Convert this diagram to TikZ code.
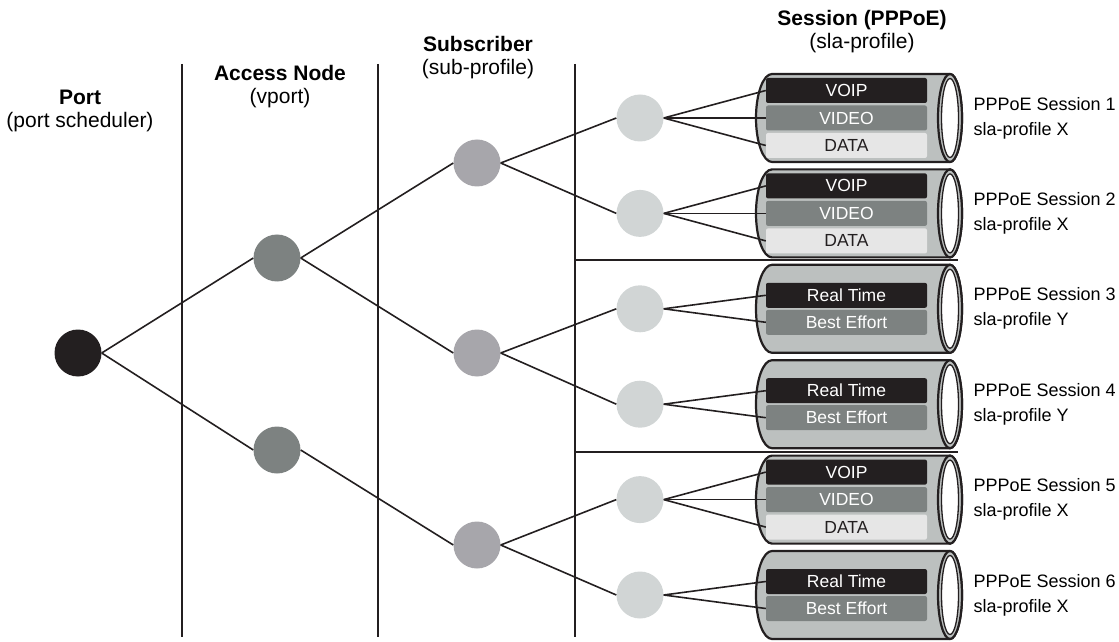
\documentclass[tikz,border=0pt]{standalone}
\usepackage{fontspec}
\setmainfont{Liberation Sans}
\usetikzlibrary{positioning}
\definecolor{nodeblack}{RGB}{35,31,32}
\definecolor{accessgray}{RGB}{125,130,129}
\definecolor{subgray}{RGB}{167,166,171}
\definecolor{sessgray}{RGB}{209,213,213}
\definecolor{tubegray}{RGB}{188,192,191}
\definecolor{datagray}{RGB}{230,230,230}

\begin{document}
\begin{tikzpicture}[
    x=1pt, y=1pt,
    dot/.style={circle, minimum size=47pt, inner sep=0pt},
    link/.style={line width=1.6pt, draw=nodeblack},
    divider/.style={line width=2.6pt, draw=nodeblack},
    head/.style={align=center, font=\fontsize{21}{23}\selectfont},
    band/.style={rounded corners=2pt, minimum width=161pt, minimum height=25pt,
        inner sep=0pt, font=\fontsize{17.5}{20}\selectfont},
    tag/.style={anchor=west, align=left, font=\fontsize{18}{25}\selectfont}
]
\useasboundingbox (0,0) rectangle (1119,641);

% column headings
\node[head] (porthead) at (80,530) {\textbf{Port}\\(port scheduler)};
\node[head] (acchead) at (280,554) {\textbf{Access Node}\\(vport)};
\node[head] (subhead) at (478,583) {\textbf{Subscriber}\\(sub-profile)};
\node[head] (sesshead) at (862,609) {\textbf{Session (PPPoE)}\\(sla-profile)};

% column dividers
\foreach \x in {182,378,575}
    \draw[divider] (\x,577) -- (\x,4);
\draw[line width=2pt, draw=nodeblack] (575,381) -- (958,381);
\draw[line width=2pt, draw=nodeblack] (575,189) -- (958,189);

% sessions
\foreach \k/\cy/\prof in {1/523/X, 2/427.6/X, 3/332.2/Y, 4/236.8/Y, 5/141.4/X, 6/46/X} {
    \draw[line width=2.2pt, draw=nodeblack, fill=tubegray]
        (772,\cy+44) -- (950,\cy+44)
        arc[start angle=90, end angle=-90, x radius=12, y radius=44]
        -- (772,\cy-44)
        arc[start angle=270, end angle=90, x radius=16, y radius=44] -- cycle;
    \draw[line width=2.2pt, draw=nodeblack, fill=tubegray]
        (950,\cy) ellipse[x radius=12, y radius=44];
    \draw[line width=1.3pt, draw=nodeblack, fill=white]
        (950,\cy) ellipse[x radius=8.5, y radius=39.5];
    \node[dot, fill=sessgray] (s\k) at (640,\cy) {};
    \node[tag] (t\k) at (970,\cy) {PPPoE Session \k\\sla-profile \prof};
}

% three queues
\foreach \k/\cy in {1/523, 2/427.6, 5/141.4} {
    \node[band, fill=nodeblack, text=white] (voip\k) at (846.5,\cy+27.5) {VOIP};
    \node[band, fill=accessgray, text=white] (video\k) at (846.5,\cy) {VIDEO};
    \node[band, fill=datagray, text=nodeblack] (data\k) at (846.5,\cy-27.5) {DATA};
    \foreach \q in {voip,video,data}
        \draw[link] (s\k.east) -- (\q\k.west);
}

% two queues
\foreach \k/\cy in {3/332.2, 4/236.8, 6/46} {
    \node[band, fill=nodeblack, text=white] (rt\k) at (846.5,\cy+13.5) {Real Time};
    \node[band, fill=accessgray, text=white] (be\k) at (846.5,\cy-13.5) {Best Effort};
    \foreach \q in {rt,be}
        \draw[link] (s\k.east) -- (\q\k.west);
}

% tree
\node[dot, fill=nodeblack] (port) at (78,288) {};
\node[dot, fill=accessgray] (acc1) at (277,383) {};
\node[dot, fill=accessgray] (acc2) at (277,191) {};
\node[dot, fill=subgray] (sub1) at (477,478) {};
\node[dot, fill=subgray] (sub2) at (477,288) {};
\node[dot, fill=subgray] (sub3) at (477,96) {};

\draw[link] (port.east) -- (acc1.west);
\draw[link] (port.east) -- (acc2.west);
\draw[link] (acc1.east) -- (sub1.west);
\draw[link] (acc1.east) -- (sub2.west);
\draw[link] (acc2.east) -- (sub3.west);
\draw[link] (sub1.east) -- (s1.west);
\draw[link] (sub1.east) -- (s2.west);
\draw[link] (sub2.east) -- (s3.west);
\draw[link] (sub2.east) -- (s4.west);
\draw[link] (sub3.east) -- (s5.west);
\draw[link] (sub3.east) -- (s6.west);

\end{tikzpicture}
\end{document}
